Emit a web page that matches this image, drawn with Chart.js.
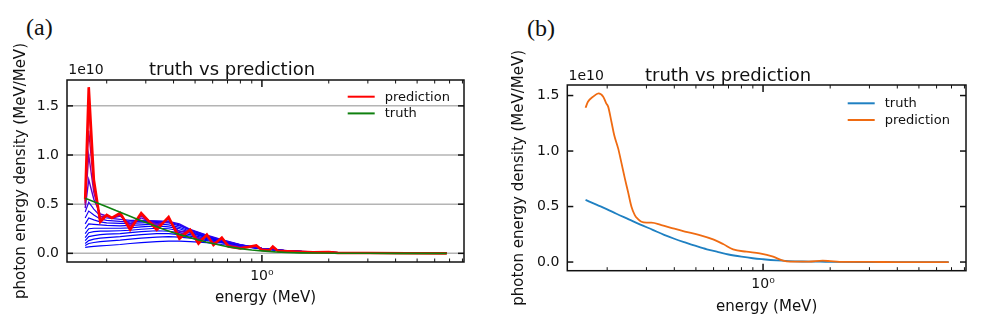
<!DOCTYPE html>
<html>
<head>
<meta charset="utf-8">
<script src="https://cdn.jsdelivr.net/npm/chart.js@4.4.0/dist/chart.umd.min.js"></script>
<style>
body { margin:0; background:#fff; width:1004px; height:326px; position:relative; overflow:hidden; }
canvas { position:absolute; top:0; }
.tag { position:absolute; font-family:"Liberation Serif", serif; font-size:24px; line-height:24px; color:#111; }
</style>
</head>
<body>
<div class="tag" style="left:26px;top:14.6px">(a)</div>
<div class="tag" style="left:527px;top:15.6px">(b)</div>
<canvas id="chartA" width="490" height="326" style="left:0"></canvas>
<canvas id="chartB" width="514" height="326" style="left:490px"></canvas>
<script>
// energy grids (MeV)
var energyA = [0.160,0.166,0.175,0.187,0.200,0.211,0.230,0.255,0.286,0.336,0.380,0.425,0.475,0.518,0.565,0.605,0.660,0.707,0.800,0.943,1.00,1.08,1.12,1.18,1.30,1.50,1.70,2.00,2.20,3.00,4.50,6.80];
var energyIter = [0.160,0.166,0.175,0.187,0.200,0.230,0.255,0.286,0.336,0.380,0.425,0.475,0.565,0.660,0.800,1.00,1.30,1.70,2.2,3.0,4.5,6.8];
var energyTruth = [0.16,0.18,0.20,0.22,0.25,0.28,0.32,0.36,0.40,0.45,0.50,0.56,0.63,0.70,0.80,0.90,1.0,1.15,1.3,1.5,1.8,2.2,3.0,4.0,5.0,6.8];
var energyPredB = [0.160,0.164,0.173,0.183,0.192,0.198,0.202,0.209,0.215,0.224,0.232,0.240,0.248,0.257,0.266,0.275,0.285,0.300,0.316,0.350,0.400,0.446,0.520,0.597,0.662,0.734,0.842,0.966,1.11,1.23,1.32,1.60,1.85,2.00,2.20,3.00,4.00,6.80];

// values in units of 1e10 MeV/MeV
var truthVals = [0.56,0.515,0.475,0.435,0.385,0.34,0.29,0.245,0.21,0.175,0.145,0.115,0.09,0.068,0.048,0.034,0.025,0.015,0.009,0.005,0.003,0.001,0.0005,0,0,0];
var predA = [0.55,1.69,0.75,0.32,0.39,0.36,0.41,0.24,0.41,0.24,0.37,0.15,0.24,0.10,0.19,0.085,0.16,0.07,0.05,0.08,0.035,0.03,0.07,0.025,0.02,0.015,0.01,0.012,0.005,0.003,0.001,0.0];
var stepA1 = [0.46,0.75,0.55,0.40,0.38,0.36,0.38,0.30,0.36,0.30,0.33,0.22,0.23,0.15,0.17,0.11,0.14,0.09,0.065,0.07,0.045,0.035,0.055,0.03,0.022,0.016,0.011,0.011,0.006,0.003,0.001,0.0];
var stepA2 = [0.49,1.0,0.62,0.37,0.385,0.36,0.39,0.28,0.38,0.28,0.35,0.19,0.235,0.13,0.18,0.10,0.15,0.08,0.06,0.075,0.04,0.033,0.06,0.028,0.021,0.015,0.01,0.011,0.005,0.003,0.001,0.0];
var stepA3 = [0.51,1.25,0.68,0.35,0.39,0.36,0.40,0.26,0.395,0.26,0.36,0.17,0.24,0.115,0.185,0.09,0.155,0.075,0.055,0.078,0.037,0.031,0.065,0.026,0.02,0.015,0.01,0.012,0.005,0.003,0.001,0.0];
var stepA4 = [0.53,1.5,0.72,0.33,0.39,0.36,0.405,0.25,0.405,0.25,0.365,0.16,0.24,0.105,0.19,0.088,0.158,0.072,0.052,0.08,0.036,0.03,0.068,0.025,0.02,0.015,0.01,0.012,0.005,0.003,0.001,0.0];
var iterBlue = [
  [0.06,0.065,0.07,0.075,0.08,0.09,0.10,0.11,0.12,0.125,0.125,0.12,0.11,0.09,0.07,0.045,0.028,0.015,0.008,0.004,0.002,0.001],
  [0.08,0.10,0.11,0.12,0.125,0.135,0.145,0.155,0.165,0.17,0.165,0.155,0.13,0.105,0.075,0.045,0.025,0.013,0.007,0.004,0.002,0.001],
  [0.10,0.13,0.145,0.155,0.16,0.17,0.18,0.19,0.20,0.20,0.19,0.175,0.14,0.11,0.078,0.046,0.025,0.013,0.007,0.004,0.002,0.001],
  [0.13,0.17,0.18,0.19,0.195,0.20,0.21,0.22,0.23,0.225,0.21,0.19,0.15,0.115,0.08,0.047,0.025,0.013,0.007,0.004,0.002,0.001],
  [0.16,0.21,0.22,0.225,0.225,0.23,0.235,0.245,0.255,0.25,0.23,0.205,0.16,0.12,0.082,0.048,0.025,0.013,0.007,0.004,0.002,0.001],
  [0.20,0.25,0.255,0.255,0.255,0.255,0.26,0.27,0.28,0.27,0.25,0.215,0.165,0.125,0.083,0.049,0.025,0.013,0.007,0.004,0.002,0.001],
  [0.25,0.30,0.295,0.29,0.285,0.28,0.285,0.29,0.30,0.29,0.265,0.225,0.17,0.128,0.085,0.05,0.026,0.013,0.007,0.004,0.002,0.001],
  [0.30,0.36,0.34,0.32,0.31,0.305,0.305,0.31,0.315,0.31,0.28,0.235,0.175,0.13,0.086,0.05,0.026,0.013,0.007,0.004,0.002,0.001],
  [0.36,0.43,0.39,0.35,0.335,0.325,0.32,0.325,0.325,0.32,0.29,0.24,0.18,0.135,0.087,0.05,0.026,0.013,0.007,0.004,0.002,0.001],
  [0.42,0.52,0.45,0.38,0.36,0.345,0.335,0.335,0.33,0.325,0.30,0.245,0.185,0.14,0.088,0.051,0.026,0.013,0.007,0.004,0.002,0.001]
];
var predB = [1.39,1.444,1.49,1.52,1.49,1.43,1.40,1.264,1.144,1.024,0.889,0.754,0.633,0.498,0.423,0.387,0.363,0.355,0.355,0.333,0.30,0.275,0.243,0.204,0.162,0.114,0.093,0.078,0.048,0.012,0.003,0.003,0.012,0.008,0.002,0.001,0,0];

// ticks
var yTicks = [0, 0.5, 1.0, 1.5];
var xMajor = [1];
var xMinor = [0.2,0.3,0.4,0.5,0.6,0.7,0.8,0.9,2,3,4,5,6,7,8];

var FONT = '"DejaVu Sans", sans-serif';
var INK = '#111111';
Chart.defaults.font.family = FONT;
Chart.defaults.color = INK;

function pts(xs, ys) {
	return xs.map(function(x, i) { return {x: x, y: ys[i]}; });
}

function line(ctx, x1, y1, x2, y2) {
	ctx.beginPath(); ctx.moveTo(x1, y1); ctx.lineTo(x2, y2); ctx.stroke();
}

var decor = {
	id: 'decor',
	beforeDatasetsDraw: function(chart, args, o) {
		if (!o.grid) return;
		var ctx = chart.ctx, a = chart.chartArea, ys = chart.scales.y;
		ctx.save();
		ctx.strokeStyle = '#b4b4b4';
		ctx.lineWidth = 1.5;
		yTicks.forEach(function(v) {
			var py = ys.getPixelForValue(v);
			line(ctx, a.left, py, a.right, py);
		});
		ctx.restore();
	},
	afterDraw: function(chart, args, o) {
		var ctx = chart.ctx, a = chart.chartArea, xs = chart.scales.x, ys = chart.scales.y;
		ctx.save();
		ctx.strokeStyle = INK;
		ctx.lineWidth = 1;
		xMinor.forEach(function(v) {
			var px = xs.getPixelForValue(v);
			line(ctx, px, a.bottom, px, a.bottom - 3.5);
			line(ctx, px, a.top, px, a.top + 3.5);
		});
		ctx.lineWidth = 1.5;
		xMajor.forEach(function(v) {
			var px = xs.getPixelForValue(v);
			line(ctx, px, a.bottom, px, a.bottom - 7);
			line(ctx, px, a.top, px, a.top + 7);
		});
		yTicks.forEach(function(v) {
			var py = ys.getPixelForValue(v);
			line(ctx, a.left, py, a.left + 6, py);
			line(ctx, a.right, py, a.right - 6, py);
		});
		ctx.strokeRect(a.left, a.top, a.right - a.left, a.bottom - a.top);

		ctx.fillStyle = INK;
		ctx.font = '14px ' + FONT;
		ctx.textAlign = 'left';
		ctx.textBaseline = 'alphabetic';
		ctx.fillText('1e10', a.left + 1.3, a.top - o.offsetGap);

		ctx.font = '13px ' + FONT;
		ctx.textBaseline = 'middle';
		o.legend.forEach(function(item, i) {
			var y = o.legendY + i * 16.7;
			ctx.strokeStyle = item.color;
			ctx.lineWidth = 2;
			line(ctx, o.legendX, y, o.legendX + 27, y);
			ctx.fillText(item.label, o.legendX + 37, y + 0.5);
		});
		ctx.restore();
	}
};

function makeOptions(cfg) {
	return {
		responsive: false,
		animation: false,
		events: [],
		devicePixelRatio: 1,
		layout: { padding: { left: 0, right: cfg.padRight, top: 0, bottom: 0 } },
		plugins: {
			legend: { display: false },
			tooltip: { enabled: false },
			title: {
				display: true,
				text: 'truth vs prediction',
				color: INK,
				font: { size: 18, weight: 'normal', lineHeight: 1 },
				padding: { top: cfg.titleTop, bottom: cfg.titleBottom }
			},
			decor: cfg.decor
		},
		scales: {
			x: {
				type: 'logarithmic',
				min: 0.1325,
				max: 8.13,
				grid: { display: false, drawTicks: false },
				border: { display: false },
				afterBuildTicks: function(s) { s.ticks = xMajor.map(function(v) { return {value: v}; }); },
				afterFit: function(s) { s.height = cfg.xHeight; },
				ticks: {
					padding: 5.5,
					maxRotation: 0,
					font: { size: 14 },
					color: INK,
					callback: function(v) { return v === 1 ? '10\u2070' : ''; }
				},
				title: {
					display: true,
					text: 'energy (MeV)',
					color: INK,
					font: { size: 15 },
					padding: { top: 0, bottom: cfg.xTitlePad }
				}
			},
			y: {
				type: 'linear',
				min: cfg.yMin,
				max: cfg.yMax,
				grid: { display: false, drawTicks: false },
				border: { display: false },
				afterBuildTicks: function(s) { s.ticks = yTicks.map(function(v) { return {value: v}; }); },
				afterFit: function(s) { s.width = cfg.yWidth; },
				ticks: {
					padding: 8,
					font: { size: 14 },
					color: INK,
					callback: function(v) { return Number(v).toFixed(1); }
				},
				title: {
					display: true,
					text: 'photon energy density (MeV/MeV)',
					color: INK,
					font: { size: 15 },
					padding: { top: cfg.yTitlePad, bottom: 0 }
				}
			}
		}
	};
}

function ds(data, color, width, label, smooth) {
	var d = {
		label: label || '',
		data: data,
		borderColor: color,
		borderWidth: width,
		pointRadius: 0,
		tension: 0,
		fill: false
	};
	if (smooth) d.cubicInterpolationMode = 'monotone';
	return d;
}

// panel (a): index 0 is drawn on top
var setsA = [
	ds(pts(energyTruth, truthVals), '#0f800f', 1.6, 'truth'),
	ds(pts(energyA, predA), '#ff0000', 2.6, 'prediction'),
	ds(pts(energyA, stepA4), '#e8002a', 1.4),
	ds(pts(energyA, stepA3), '#c0005c', 1.4),
	ds(pts(energyA, stepA2), '#8c00a0', 1.4),
	ds(pts(energyA, stepA1), '#5a00d0', 1.4)
];
var blueShades = ['#2a00f0', '#1a00f5', '#1000f8', '#0a00fa', '#0000fc', '#0000ff', '#0000ff', '#0000ff', '#0000ff', '#0000ff'];
for (var i = iterBlue.length - 1; i >= 0; i--) {
	setsA.push(ds(pts(energyIter, iterBlue[i]), blueShades[iterBlue.length - 1 - i], 1.2));
}

new Chart(document.getElementById('chartA').getContext('2d'), {
	type: 'line',
	data: { datasets: setsA },
	options: makeOptions({
		padRight: 26, titleTop: 61.6, titleBottom: 0.4, xHeight: 64, xTitlePad: 19.3,
		yWidth: 67, yTitlePad: 11.7, yMin: -0.088, yMax: 1.763,
		decor: {
			grid: true, offsetGap: 6, legendX: 347.7, legendY: 96.7,
			legend: [{label: 'prediction', color: '#ff0000'}, {label: 'truth', color: '#0f800f'}]
		}
	}),
	plugins: [decor]
});

// panel (b)
new Chart(document.getElementById('chartB').getContext('2d'), {
	type: 'line',
	data: {
		datasets: [
			ds(pts(energyPredB, predB), '#ef6b12', 1.8, 'prediction', true),
			ds(pts(energyTruth, truthVals), '#1f80c2', 1.8, 'truth', true)
		]
	},
	options: makeOptions({
		padRight: 38, titleTop: 67, titleBottom: 0, xHeight: 55.3, xTitlePad: 10.3,
		yWidth: 77.3, yTitlePad: 20.3, yMin: -0.078, yMax: 1.595,
		decor: {
			grid: false, offsetGap: 5, legendX: 357.7, legendY: 103.3,
			legend: [{label: 'truth', color: '#1f80c2'}, {label: 'prediction', color: '#ef6b12'}]
		}
	}),
	plugins: [decor]
});
</script>
</body>
</html>
